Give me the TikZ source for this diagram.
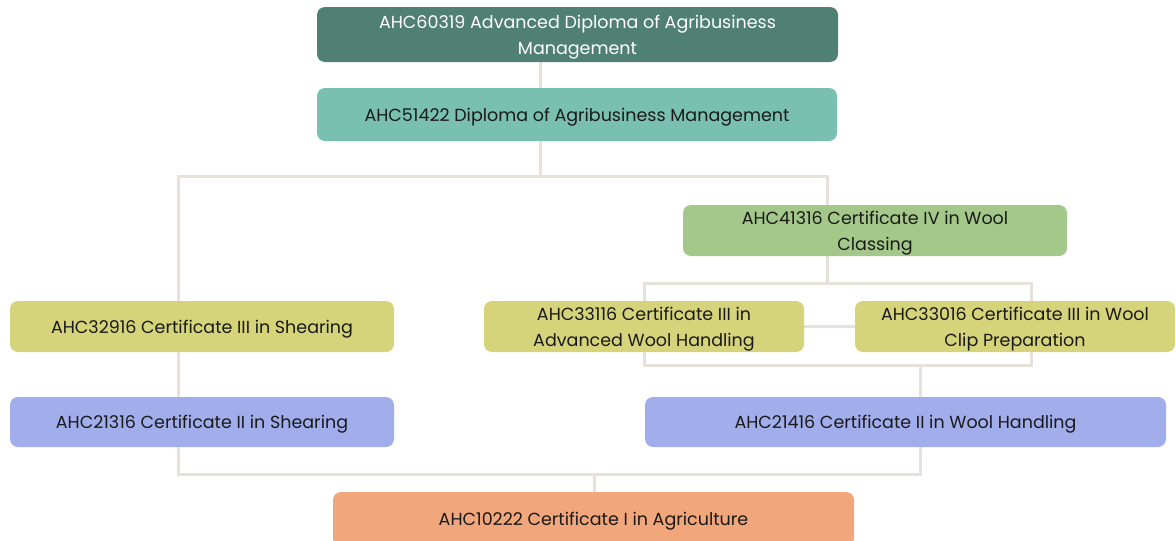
\documentclass[tikz,border=0pt]{standalone}
\usepackage{fontspec}
\setmainfont{Poppins}
\usetikzlibrary{backgrounds}
\definecolor{cTop}{HTML}{507F74}
\definecolor{cDip}{HTML}{7AC0B0}
\definecolor{cIV}{HTML}{A3C88A}
\definecolor{cIII}{HTML}{D6D47A}
\definecolor{cII}{HTML}{A2AEEC}
\definecolor{cI}{HTML}{F2A67C}
\definecolor{cLine}{HTML}{E6E2DA}
\definecolor{cText}{HTML}{1A1A1A}
\tikzset{
  box/.style={rounded corners=8pt, align=center, inner sep=0pt, text=cText,
    text depth=0pt, font=\fontsize{17.5}{26}\selectfont},
  conn/.style={draw=cLine, line width=3pt, line cap=rect}
}
\begin{document}
\begin{tikzpicture}[x=1pt,y=-1pt]
\useasboundingbox (0,0) rectangle (1176,541);
\clip (0,0) rectangle (1176,541);
% nodes
\node[box, fill=cTop, text=white, minimum width=521pt, minimum height=55pt] (n1) at (577.5,34.5) {AHC60319 Advanced Diploma of Agribusiness\\Management};
\node[box, fill=cDip, minimum width=520pt, minimum height=53pt] (n2) at (577,114.5) {AHC51422 Diploma of Agribusiness Management};
\node[box, fill=cIV, minimum width=384pt, minimum height=51pt] (n3) at (875,230.5) {AHC41316 Certificate IV in Wool\\Classing};
\node[box, fill=cIII, minimum width=384pt, minimum height=51pt] (n4) at (202,326.5) {AHC32916 Certificate III in Shearing};
\node[box, fill=cIII, minimum width=320pt, minimum height=51pt] (n5) at (644,326.5) {AHC33116 Certificate III in\\Advanced Wool Handling};
\node[box, fill=cIII, minimum width=320pt, minimum height=51pt] (n6) at (1015,326.5) {AHC33016 Certificate III in Wool\\Clip Preparation};
\node[box, fill=cII, minimum width=384pt, minimum height=50pt] (n7) at (202,422) {AHC21316 Certificate II in Shearing};
\node[box, fill=cII, minimum width=521pt, minimum height=50pt] (n8) at (905.5,422) {AHC21416 Certificate II in Wool Handling};
\node[box, fill=cI, minimum width=521pt, minimum height=54pt] (n9) at (593.5,519) {AHC10222 Certificate I in Agriculture};
% junctions
\coordinate (j1) at (540,176);
\coordinate (bL) at (178,176);
\coordinate (bR) at (827,176);
\coordinate (cL) at (178,474);
\coordinate (cM) at (594,474);
\coordinate (cR) at (920,474);
\coordinate (dL) at (644,283);
\coordinate (dM) at (827,283);
\coordinate (dR) at (1031,283);
\coordinate (eL) at (644,365);
\coordinate (eM) at (920,365);
\coordinate (eR) at (1031,365);
% connectors
\begin{scope}[on background layer]
\draw[conn] (n1.south -| j1) -- (n2.north -| j1);
\draw[conn] (n2.south -| j1) -- (j1);
\draw[conn] (bL) -- (bR);
\draw[conn] (bL) -- (n4.north -| bL);
\draw[conn] (n4.south -| bL) -- (n7.north -| bL);
\draw[conn] (n7.south -| bL) -- (cL) -- (cR);
\draw[conn] (cM) -- (n9.north -| cM);
\draw[conn] (bR) -- (n3.north -| bR);
\draw[conn] (n3.south -| dM) -- (dM);
\draw[conn] (dL) -- (dR);
\draw[conn] (dL) -- (n5.north -| dL);
\draw[conn] (dR) -- (n6.north -| dR);
\draw[conn] (n5.east) -- (n6.west);
\draw[conn] (n5.south -| eL) -- (eL) -- (eR) -- (n6.south -| eR);
\draw[conn] (eM) -- (n8.north -| eM);
\draw[conn] (n8.south -| cR) -- (cR);
\end{scope}
\end{tikzpicture}
\end{document}
